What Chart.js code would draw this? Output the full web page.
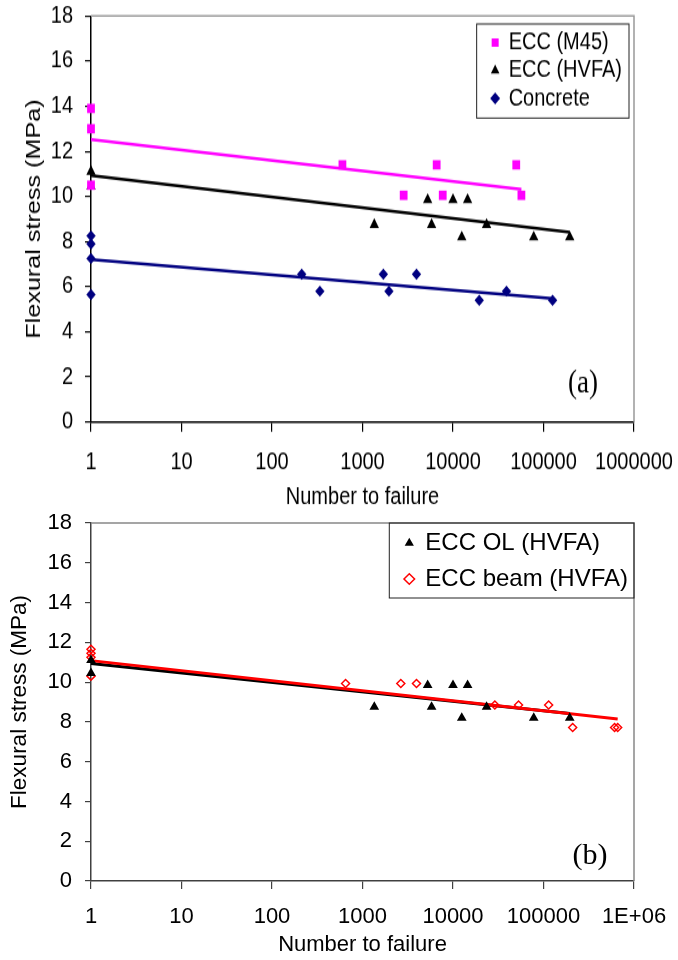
<!DOCTYPE html>
<html><head><meta charset="utf-8">
<script src="https://cdn.jsdelivr.net/npm/chart.js@4.4.0/dist/chart.umd.min.js"></script>
<style>
html,body{margin:0;padding:0;background:#fff;}
body{width:678px;height:960px;position:relative;overflow:hidden;}
#wrapA{position:absolute;left:0;top:0;width:678px;height:430px;transform:scaleY(1.2);transform-origin:0 0;}
#wrapB{position:absolute;left:0;top:500px;width:678px;height:460px;}
canvas{display:block;}
</style></head><body>
<div id="wrapA"><canvas id="cA" width="678" height="430"></canvas></div>
<div id="wrapB"><canvas id="cB" width="678" height="460"></canvas></div>
<script>
// ---------- shared axis data ----------
const xTickValues = [1, 10, 100, 1000, 10000, 100000, 1000000];
const xTickLabelsA = ['1', '10', '100', '1000', '10000', '100000', '1000000'];
const xTickLabelsB = ['1', '10', '100', '1000', '10000', '100000', '1E+06'];

// ---------- panel (a) ----------
const m45Cycles = [1, 1, 1, 600, 2850, 6600, 7700, 50000, 57000];
const m45Stress = [13.9, 13.0, 10.5, 11.4, 10.05, 11.4, 10.05, 11.4, 10.05];
const hvfaCycles = [1, 1, 1350, 5250, 5800, 10000, 12500, 14500, 23500, 78000, 195000];
const hvfaStress = [11.1, 10.45, 8.75, 9.85, 8.75, 9.85, 8.2, 9.85, 8.75, 8.2, 8.2];
const concCycles = [1, 1, 1, 1, 213, 338, 1700, 1960, 3950, 19500, 39000, 126000];
const concStress = [8.25, 7.9, 7.25, 5.65, 6.55, 5.8, 6.55, 5.8, 6.55, 5.4, 5.8, 5.4];
const m45TrendX = [1, 57000];
const m45TrendY = [12.52, 10.32];
const hvfaTrendX = [1, 195000];
const hvfaTrendY = [10.93, 8.42];
const concTrendX = [1, 126000];
const concTrendY = [7.21, 5.47];

// ---------- panel (b) ----------
const olCycles = [1, 1, 1350, 5250, 5800, 10000, 12500, 14500, 23500, 78000, 195000];
const olStress = [11.1, 10.45, 8.75, 9.85, 8.75, 9.85, 8.2, 9.85, 8.75, 8.2, 8.2];
const beamCycles = [1, 1, 1, 1, 650, 2650, 3950, 29000, 53000, 114000, 210000, 610000, 660000];
const beamStress = [11.65, 11.45, 11.25, 10.3, 9.93, 9.93, 9.93, 8.85, 8.85, 8.85, 7.72, 7.72, 7.72];
const olTrendX = [1, 195000];
const olTrendY = [10.93, 8.42];
const beamTrendX = [1, 660000];
const beamTrendY = [11.08, 8.15];

Chart.defaults.font.family = "'Liberation Sans', Arial, Helvetica, sans-serif";
Chart.defaults.color = '#000';

const pts = (xs, ys) => xs.map((x, i) => ({x: x, y: ys[i]}));

function scatterSet(label, xs, ys, style, radius, fill, stroke, bw) {
  return {
    label: label, data: pts(xs, ys), showLine: false, clip: false,
    pointStyle: style, pointRadius: radius, pointHoverRadius: radius,
    pointBackgroundColor: fill, pointBorderColor: stroke, pointBorderWidth: bw,
    backgroundColor: fill, borderColor: stroke, borderWidth: bw
  };
}
function trendSet(xs, ys, color, width) {
  return {
    label: 'trend', isTrend: true, data: pts(xs, ys), showLine: true, clip: false,
    pointRadius: 0, pointHoverRadius: 0, borderColor: color, borderWidth: width,
    backgroundColor: color, fill: false, tension: 0
  };
}

const framePlugin = {
  id: 'frame',
  beforeDatasetsDraw(chart, args, o) {
    const ctx = chart.ctx, ca = chart.chartArea;
    ctx.save();
    ctx.strokeStyle = o.color; ctx.lineWidth = o.width;
    ctx.beginPath();
    ctx.moveTo(ca.left, ca.top); ctx.lineTo(ca.right, ca.top); ctx.lineTo(ca.right, ca.bottom);
    ctx.stroke();
    ctx.restore();
  }
};

const legendBoxPlugin = {
  id: 'legendBox',
  beforeDraw(chart, args, o) {
    const lg = chart.legend;
    if (!lg || !lg.columnSizes || !lg.columnSizes.length) return;
    const ca = chart.chartArea;
    const pad = o.pad, fs = o.fs;
    const colW = lg.columnSizes[0].width;
    const right = ca.right - o.insetRight;
    const top = ca.top + o.insetTop;
    const left = right - (o.padL + colW + o.padR);
    lg.left = left + o.padL - pad;
    lg.top = top + o.firstCenter - fs / 2 - pad;
    lg.right = lg.left + colW + 2 * pad + 20;
    lg.bottom = lg.top + 2000;
    const n = lg.legendItems.length;
    const bottom = lg.top + pad + (n - 1) * (fs + pad) + fs / 2 + o.lastBelow;
    chart.$legendBorder = {left: left, top: top, right: right, bottom: bottom};
  },
  afterDraw(chart, args, o) {
    const b = chart.$legendBorder;
    if (!b) return;
    const ctx = chart.ctx;
    ctx.save();
    ctx.strokeStyle = o.color; ctx.lineWidth = o.width;
    ctx.strokeRect(b.left, b.top, b.right - b.left, b.bottom - b.top);
    ctx.restore();
  }
};

const panelLabelPlugin = {
  id: 'panelLabel',
  afterDraw(chart, args, o) {
    const ctx = chart.ctx, ca = chart.chartArea;
    ctx.save();
    ctx.font = o.size + "px 'Liberation Serif', 'Times New Roman', serif";
    ctx.fillStyle = '#000';
    ctx.textAlign = 'center';
    ctx.textBaseline = 'middle';
    ctx.fillText(o.text, ca.right - o.dx, ca.bottom - o.dy);
    ctx.restore();
  }
};

function buildOptions(c) {
  return {
    responsive: false, animation: false, events: [],
    layout: {padding: {top: c.padTop, right: 44, bottom: 0, left: 0}},
    plugins: {
      tooltip: {enabled: false},
      legend: {
        position: 'chartArea', align: 'start',
        labels: {
          usePointStyle: true, boxWidth: c.boxW, boxHeight: c.boxH, padding: c.legPad,
          font: {size: c.legFont}, color: '#000', textAlign: 'left',
          filter: (item, data) => !data.datasets[item.datasetIndex].isTrend
        }
      },
      legendBox: {
        pad: c.legPad, fs: c.legFont, insetRight: c.insetRight, insetTop: c.insetTop,
        padL: c.padL, padR: c.padR, firstCenter: c.firstCenter, lastBelow: c.lastBelow,
        color: '#222', width: 1
      },
      frame: {color: c.frameColor, width: 1.5},
      panelLabel: {text: c.panelText, size: c.panelSize, dx: c.panelDx, dy: c.panelDy}
    },
    scales: {
      x: {
        type: 'logarithmic', min: 1, max: 1000000,
        afterBuildTicks: s => { s.ticks = xTickValues.map(v => ({value: v})); },
        afterFit: s => { s.height = c.xHeight; s.paddingLeft = 0; s.paddingRight = 0; },
        ticks: {
          color: '#000', font: {size: c.tickFont}, padding: c.xTickPad,
          maxRotation: 0, minRotation: 0, autoSkip: false,
          callback: (v, i) => c.xLabels[i]
        },
        grid: {drawOnChartArea: false, drawTicks: true, tickLength: 8, color: c.axisColor, tickColor: c.axisColor, lineWidth: 1.2},
        border: {display: true, color: c.axisColor, width: 1.5},
        title: {display: true, text: 'Number to failure', color: '#000', font: {size: c.xTitleFont}, padding: {top: 0, bottom: c.xTitlePadB}}
      },
      y: {
        type: 'linear', min: 0, max: 18,
        afterFit: s => { s.width = 91; s.paddingTop = 0; s.paddingBottom = 0; },
        ticks: {stepSize: 2, color: '#000', font: {size: c.tickFont}, padding: c.yTickPad},
        grid: {drawOnChartArea: false, drawTicks: true, tickLength: 6, color: c.axisColor, tickColor: c.axisColor, lineWidth: 1.2},
        border: {display: true, color: c.axisColor, width: 1.5},
        title: {display: true, text: 'Flexural stress (MPa)', color: '#000', font: {size: c.yTitleFont}, padding: {top: c.yTitlePadT, bottom: 0}}
      }
    }
  };
}

// ---------- chart (a) ----------
new Chart(document.getElementById('cA'), {
  type: 'scatter',
  data: {
    datasets: [
      scatterSet('ECC (M45)', m45Cycles, m45Stress, 'rect', 5.5, '#ff00ff', '#ff00ff', 0),
      scatterSet('ECC (HVFA)', hvfaCycles, hvfaStress, 'triangle', 5.4, '#000000', '#000000', 0),
      scatterSet('Concrete', concCycles, concStress, 'rectRot', 4.7, '#000080', '#000080', 0),
      trendSet(m45TrendX, m45TrendY, '#ff00ff', 2.5),
      trendSet(hvfaTrendX, hvfaTrendY, '#000000', 2.5),
      trendSet(concTrendX, concTrendY, '#000080', 2.5)
    ]
  },
  options: buildOptions({
    padTop: 13.3, xHeight: 78.3, xLabels: xTickLabelsA, tickFont: 20, xTickPad: 13.3,
    xTitleFont: 20, xTitlePadB: 4, yTickPad: 12, yTitleFont: 21, yTitlePadT: 21.4,
    axisColor: '#000', frameColor: '#999',
    boxW: 7, boxH: 7, legPad: 3.2, legFont: 20, insetRight: 5, insetTop: 6.7,
    padL: 15, padR: 7, firstCenter: 15.6, lastBelow: 16.4,
    panelText: '(a)', panelSize: 27, panelDx: 51, panelDy: 31.3
  }),
  plugins: [framePlugin, legendBoxPlugin, panelLabelPlugin]
});

// ---------- chart (b) ----------
new Chart(document.getElementById('cB'), {
  type: 'scatter',
  data: {
    datasets: [
      scatterSet('ECC OL (HVFA)', olCycles, olStress, 'triangle', 5.6, '#000000', '#000000', 0),
      scatterSet('ECC beam (HVFA)', beamCycles, beamStress, 'rectRot', 4.0, 'rgba(255,255,255,0)', '#ff0000', 1.5),
      trendSet(beamTrendX, beamTrendY, '#ff0000', 3),
      trendSet(olTrendX, olTrendY, '#000000', 3)
    ]
  },
  options: buildOptions({
    padTop: 23, xHeight: 79, xLabels: xTickLabelsB, tickFont: 22, xTickPad: 14.8,
    xTitleFont: 22, xTitlePadB: 1.8, yTickPad: 13, yTitleFont: 22.5, yTitlePadT: 5.8,
    axisColor: '#404040', frameColor: '#888',
    boxW: 8, boxH: 7.5, legPad: 12, legFont: 24, insetRight: 0, insetTop: 0,
    padL: 16, padR: 6, firstCenter: 20, lastBelow: 19,
    panelText: '(b)', panelSize: 30, panelDx: 44, panelDy: 25
  }),
  plugins: [framePlugin, legendBoxPlugin, panelLabelPlugin]
});
</script>
</body></html>
